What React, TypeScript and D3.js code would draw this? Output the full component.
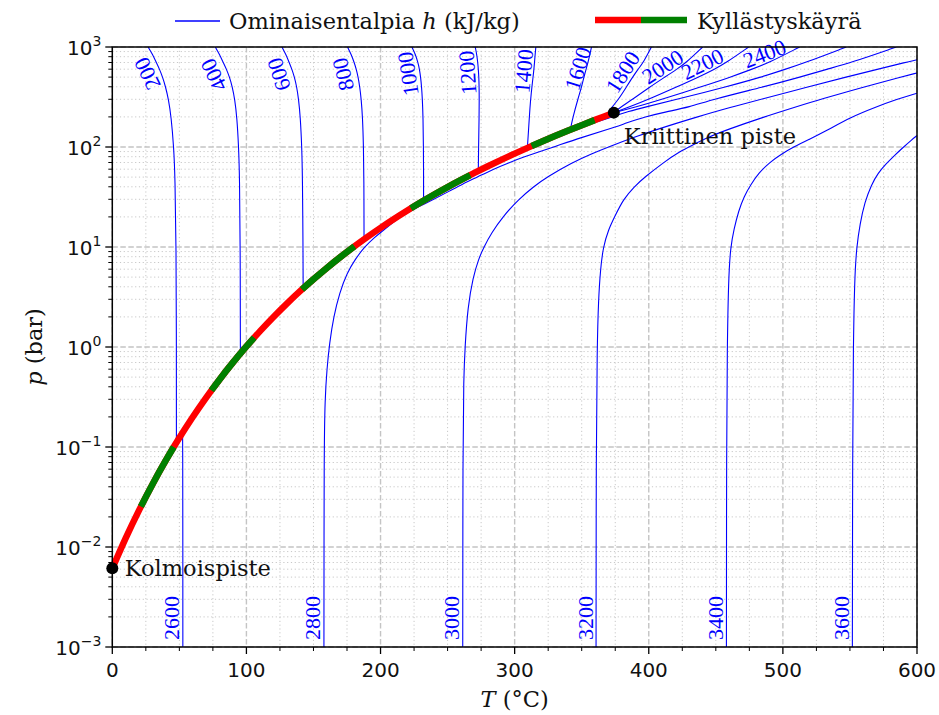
import React from 'react';
import * as d3 from 'd3';

type Pt = [number, number]; // [T (°C), p (bar)]

// Saturation curve (triple point -> critical point)
const SAT_T = [0.01, 10, 20, 30, 40, 50, 60, 70, 80, 90, 100, 110, 120, 130, 140, 150, 160, 170, 180, 190, 200, 210, 220, 230, 240, 250, 260, 270, 280, 290, 300, 310, 320, 330, 340, 350, 360, 370, 373.95];
const SAT_P = [0.006117, 0.012282, 0.023393, 0.04247, 0.073849, 0.12352, 0.19946, 0.31201, 0.47416, 0.70182, 1.0142, 1.4338, 1.9867, 2.7028, 3.6154, 4.7616, 6.1823, 7.9219, 10.028, 12.552, 15.549, 19.077, 23.196, 27.971, 33.469, 39.762, 46.923, 55.03, 64.166, 74.418, 85.879, 98.651, 112.84, 128.58, 146.01, 165.29, 186.66, 210.44, 220.64];

const TRIPLE: Pt = [0.01, 0.006117];
const CRITICAL: Pt = [373.95, 220.64];

// Isenthalps (kJ/kg) as [T, p]
const H200: Pt[] = [[47.8, 0.111], [47.8, 1], [47.6, 10], [46.8, 50], [45.8, 100], [43.9, 200], [41.9, 300], [39.7, 400], [37.5, 500], [35.2, 600], [32.8, 700], [29.9, 850], [26.7, 1000]];
const H400: Pt[] = [[95.5, 0.85], [95.4, 10], [94.9, 50], [94.2, 100], [92.9, 200], [91.3, 300], [89.5, 400], [87.4, 500], [85.1, 600], [82.7, 700], [79.8, 850], [76.8, 1000]];
const H600: Pt[] = [[142.3, 3.85], [142.2, 10], [141.8, 50], [141.3, 100], [140.2, 200], [138.9, 300], [137.5, 400], [135.8, 500], [133.9, 600], [131.9, 700], [129.3, 850], [126.5, 1000]];
const H800: Pt[] = [[187.7, 11.9], [187.6, 50], [187.3, 100], [186.6, 200], [185.6, 300], [184.5, 400], [183.3, 500], [181.9, 600], [180.4, 700], [178.0, 850], [175.4, 1000]];
const H1000: Pt[] = [[232.1, 28.8], [232.1, 50], [232.0, 100], [231.7, 200], [231.2, 300], [230.6, 400], [229.9, 500], [229.0, 600], [227.9, 700], [225.9, 850], [223.4, 1000]];
const H1200: Pt[] = [[272.9, 57.8], [273.1, 100], [273.5, 200], [273.6, 300], [273.5, 400], [273.3, 500], [272.9, 600], [272.5, 700], [271.7, 850], [270.6, 1000]];
const H1400: Pt[] = [[309.5, 98.6], [310.4, 150], [311.4, 250], [312.4, 350], [313.3, 450], [314.1, 550], [314.8, 700], [315.3, 850], [315.8, 1000]];
const H1600: Pt[] = [[341.5, 149.5], [343.5, 200], [347.3, 307], [350.0, 400], [352.3, 546], [354.8, 700], [357.3, 1000]];
const H1800: Pt[] = [[368.5, 209], [372.5, 250], [377.5, 300], [383.4, 400], [388, 500], [392, 600], [396, 700], [402, 1000]];
const H2000: Pt[] = [[373.95, 220.64], [379, 250], [388, 300], [401, 400], [412, 500], [421, 600], [428, 700], [440.2, 1000]];
const H2200: Pt[] = [[373.95, 220.64], [385, 250], [400, 300], [421, 400], [437, 500], [449, 600], [458, 700], [474.5, 1000]];
const H2400: Pt[] = [[373.95, 220.64], [390, 250], [410, 300], [439, 400], [461, 500], [477, 600], [490, 700], [512.5, 1000]];
const H2600_LOW: Pt[] = [[52.6, 0.001], [52.6, 0.01], [52.5, 0.1], [52.4, 0.137]];
const H2600_HIGH: Pt[] = [[343, 152], [356, 170], [368, 190], [377, 210], [384, 225], [397, 250], [421, 300], [458, 400], [484, 500], [502, 600], [517, 700], [547.3, 1000]];
const H2800: Pt[] = [[157.8, 0.001], [157.9, 0.1], [158.6, 0.3], [160, 0.6], [162, 1.1], [165, 2], [169.5, 3.5], [175, 5.5], [181, 7.5], [188, 10], [195.5, 12.5], [203, 15], [209.5, 17.7], [216, 20.5], [229, 25.5], [240.5, 30.5], [251, 36], [261, 42.5], [272, 50], [284, 60], [296, 70], [307.5, 80], [318.5, 90], [329, 100], [350, 125], [370, 150], [384, 175], [397, 200], [413, 225], [430, 250], [448, 300], [486, 400], [513, 500], [533, 600], [551, 700], [584.6, 1000]];
const H3000: Pt[] = [[261.3, 0.001], [261.4, 0.1], [262, 0.5], [263, 1], [265, 2.5], [269, 5], [273, 7.5], [277, 10], [283, 14], [291, 20], [303, 30], [314, 40], [324, 50], [343, 70], [357, 85], [370, 100], [389, 125], [406, 150], [436, 200], [461, 250], [484, 300], [519, 400], [547, 500], [571, 600], [591, 700], [600, 745]];
const H3200: Pt[] = [[360.7, 0.001], [360.8, 0.1], [361.5, 1], [362.5, 3], [364, 6], [366, 10], [370, 15], [374.5, 20], [381, 30], [389, 40], [397, 50], [411, 70], [423, 90], [433, 105], [444, 125], [459, 150], [486, 200], [509, 250], [528, 300], [561, 400], [588, 500], [600, 550]];
const H3400: Pt[] = [[457.9, 0.001], [458, 0.1], [458.5, 1], [459.5, 5], [461, 10], [463.5, 15], [467, 23], [471, 32], [476, 42], [482, 55], [490, 70], [499, 85], [508, 100], [520, 120], [531, 142], [551, 200], [569, 250], [585, 300], [600, 345]];
const H3600: Pt[] = [[551.8, 0.001], [552, 0.1], [552.5, 1], [553.5, 5], [555, 10], [557.5, 17], [561, 28], [566, 42], [571, 55], [577, 68], [583, 82], [590, 100], [596, 118], [600, 130]];

const TOP_LABELS = [200, 400, 600, 800, 1000, 1200, 1400, 1600, 1800, 2000, 2200, 2400];
const BOTTOM_LABELS = [2600, 2800, 3000, 3200, 3400, 3600];

const X_TICKS = [0, 100, 200, 300, 400, 500, 600];
const Y_EXPONENTS = [-3, -2, -1, 0, 1, 2, 3];

const LEGEND_H = 'Ominaisentalpia';
const LEGEND_SAT = 'Kyllästyskäyrä';
const TRIPLE_LABEL = 'Kolmoispiste';
const CRITICAL_LABEL = 'Kriittinen piste';

const SERIF = '"DejaVu Serif", serif';
const NUMSERIF = '"Liberation Serif", "Times New Roman", serif';
const SANS = '"DejaVu Sans", sans-serif';

export default function App() {
  const W = 939, H = 715;
  const x = d3.scaleLinear().domain([0, 600]).range([112.3, 917]);
  const y = d3.scaleLog().domain([1e-3, 1e3]).range([647, 47]);
  const [x0, x1] = x.range();
  const [yb, yt] = y.range();

  const lines: { h: number; pts: Pt[] }[] = [
    { h: 200, pts: H200 }, { h: 400, pts: H400 }, { h: 600, pts: H600 }, { h: 800, pts: H800 },
    { h: 1000, pts: H1000 }, { h: 1200, pts: H1200 }, { h: 1400, pts: H1400 }, { h: 1600, pts: H1600 },
    { h: 1800, pts: H1800 }, { h: 2000, pts: H2000 }, { h: 2200, pts: H2200 }, { h: 2400, pts: H2400 },
    { h: 2600, pts: H2600_LOW }, { h: 2600, pts: H2600_HIGH }, { h: 2800, pts: H2800 },
    { h: 3000, pts: H3000 }, { h: 3200, pts: H3200 }, { h: 3400, pts: H3400 }, { h: 3600, pts: H3600 },
  ];

  const lineGen = d3.line<Pt>().x(d => x(d[0])).y(d => y(d[1])).curve(d3.curveBasis);
  const satPts: Pt[] = SAT_T.map((t, i) => [t, SAT_P[i]]);
  const satGen = d3.line<Pt>().x(d => x(d[0])).y(d => y(d[1])).curve(d3.curveMonotoneX);
  const satPath = satGen(satPts) || '';

  // grid values
  const xMinor = d3.range(0, 601, 25).filter(v => v % 100 !== 0);
  const yMinor: number[] = [];
  for (let e = -3; e < 3; e++) for (let m = 2; m <= 9; m++) yMinor.push(m * Math.pow(10, e));

  // helper: point on polyline at screen y, with tangent angle
  function atY(pts: Pt[], yy: number) {
    const s = pts.map(p => [x(p[0]), y(p[1])]);
    for (let i = 0; i < s.length - 1; i++) {
      const a = s[i], b = s[i + 1];
      if ((a[1] - yy) * (b[1] - yy) <= 0 && a[1] !== b[1]) {
        const t = (yy - a[1]) / (b[1] - a[1]);
        const px = a[0] + t * (b[0] - a[0]);
        const top = a[1] < b[1] ? a : b, bot = a[1] < b[1] ? b : a;
        const ang = Math.atan2(top[1] - bot[1], top[0] - bot[0]);
        return { x: px, y: yy, ang };
      }
    }
    const l = s[s.length - 1];
    return { x: l[0], y: l[1], ang: -Math.PI / 2 };
  }

  const topLabelCfg: Record<number, [number, number]> = {
    200: [68, 13], 400: [69, 14], 600: [70, 14], 800: [71, 14], 1000: [72, 12], 1200: [72, 11], 1400: [72, 10],
    1600: [71, 8], 1800: [78, 11], 2000: [75, 10], 2200: [73, 10], 2400: [63, 10],
  };

  const lineFor = (h: number) => lines.filter(l => l.h === h);

  return (
    <svg width={W} height={H} style={{ position: 'absolute', left: 0, top: 0, background: '#fff' }}>
      <rect x={0} y={0} width={W} height={H} fill="#fff" />
      {/* minor grid */}
      <g stroke="#c8c8c8" strokeWidth={1} strokeDasharray="1.2,2.6" fill="none">
        {xMinor.map(v => <line key={'xm' + v} x1={x(v)} x2={x(v)} y1={yt} y2={yb} />)}
        {yMinor.map(v => <line key={'ym' + v} x1={x0} x2={x1} y1={y(v)} y2={y(v)} />)}
      </g>
      {/* major grid */}
      <g stroke="#c4c4c4" strokeWidth={1.4} strokeDasharray="5.5,2.5" fill="none">
        {X_TICKS.map(v => <line key={'xg' + v} x1={x(v)} x2={x(v)} y1={yt} y2={yb} />)}
        {Y_EXPONENTS.map(e => <line key={'yg' + e} x1={x0} x2={x1} y1={y(Math.pow(10, e))} y2={y(Math.pow(10, e))} />)}
      </g>

      <defs>
        <clipPath id="plotclip"><rect x={x0} y={yt} width={x1 - x0} height={yb - yt} /></clipPath>
      </defs>

      {/* isenthalps */}
      <g clipPath="url(#plotclip)" fill="none" stroke="#0000ff" strokeWidth={1.1}>
        {lines.map((l, i) => <path key={'h' + i} d={lineGen(l.pts) || ''} />)}
      </g>

      {/* saturation curve */}
      <path d={satPath} fill="none" stroke="#ff0000" strokeWidth={6.5} />
      <path d={satPath} fill="none" stroke="#008000" strokeWidth={6.5} strokeDasharray="68,68" strokeDashoffset={68} />

      {/* labels for isenthalps */}
      <g fill="#0000ff" fontFamily={NUMSERIF} fontSize={22}>
        {TOP_LABELS.map(h => {
          const ls = lineFor(h);
          const pts = ls[ls.length - 1].pts;
          const [ay, d] = topLabelCfg[h];
          const p = atY(pts, ay);
          const ux = Math.sin(p.ang), uy = -Math.cos(p.ang);
          const cx = p.x + d * ux, cy = p.y + d * uy;
          return (
            <text key={'tl' + h} x={0} y={0} textAnchor="middle" dominantBaseline="central"
              transform={`translate(${cx},${cy}) rotate(${(p.ang * 180) / Math.PI})`}>{h}</text>
          );
        })}
        {BOTTOM_LABELS.map(h => {
          const pts = lineFor(h)[0].pts;
          const bx = x(pts[0][0]) - 3.5;
          const by = yb - 7;
          return (
            <text key={'bl' + h} x={0} y={0} textAnchor="start"
              transform={`translate(${bx},${by}) rotate(-90)`}>{h}</text>
          );
        })}
      </g>

      {/* special points */}
      <circle cx={x(TRIPLE[0])} cy={y(TRIPLE[1])} r={6} fill="#000" />
      <circle cx={x(CRITICAL[0])} cy={y(CRITICAL[1])} r={6} fill="#000" />
      <text x={x(TRIPLE[0]) + 12.5} y={y(TRIPLE[1]) + 8} fontFamily={SERIF} fontSize={22.5} fill="#111">{TRIPLE_LABEL}</text>
      <text x={x(CRITICAL[0]) + 10} y={y(CRITICAL[1]) + 31.5} fontFamily={SERIF} fontSize={22.5} fill="#111">{CRITICAL_LABEL}</text>

      {/* frame */}
      <rect x={x0} y={yt} width={x1 - x0} height={yb - yt} fill="none" stroke="#000" strokeWidth={1.5} />

      {/* ticks */}
      <g stroke="#000">
        {X_TICKS.map(v => <line key={'xt' + v} x1={x(v)} x2={x(v)} y1={yb} y2={yb + 7} strokeWidth={1.3} />)}
        {xMinor.map(v => <line key={'xmt' + v} x1={x(v)} x2={x(v)} y1={yb} y2={yb + 4} strokeWidth={1} />)}
        {Y_EXPONENTS.map(e => <line key={'yt' + e} x1={x0 - 7} x2={x0} y1={y(Math.pow(10, e))} y2={y(Math.pow(10, e))} strokeWidth={1.3} />)}
        {yMinor.map(v => <line key={'ymt' + v} x1={x0 - 4} x2={x0} y1={y(v)} y2={y(v)} strokeWidth={1} />)}
      </g>
      <g fontFamily={SANS} fontSize={20} fill="#111">
        {X_TICKS.map(v => <text key={'xl' + v} x={x(v)} y={yb + 30} textAnchor="middle">{v}</text>)}
        {Y_EXPONENTS.map(e => (
          <text key={'yl' + e} x={x0 - 11} y={y(Math.pow(10, e)) + 8} textAnchor="end">
            10<tspan dy={-9} fontSize={14}>{e < 0 ? '\u2212' + Math.abs(e) : String(e)}</tspan>
          </text>
        ))}
      </g>

      {/* axis titles */}
      <text x={(x0 + x1) / 2} y={707} textAnchor="middle" fontFamily={SERIF} fontSize={22.5} fill="#111">
        <tspan fontStyle="italic">T</tspan> (°C)
      </text>
      <text transform={`translate(42,${(yt + yb) / 2}) rotate(-90)`} textAnchor="middle" fontFamily={SERIF} fontSize={22.5} fill="#111">
        <tspan fontStyle="italic">p</tspan> (bar)
      </text>

      {/* legend */}
      <line x1={175} x2={220} y1={21} y2={21} stroke="#0000ff" strokeWidth={1.3} />
      <text x={229} y={29} fontFamily={SERIF} fontSize={22.5} fill="#111">
        {LEGEND_H} <tspan fontStyle="italic">h</tspan> (kJ/kg)
      </text>
      <line x1={595} x2={641} y1={20} y2={20} stroke="#ff0000" strokeWidth={6.5} />
      <line x1={641} x2={687} y1={20} y2={20} stroke="#008000" strokeWidth={6.5} />
      <text x={697} y={29} fontFamily={SERIF} fontSize={22.5} fill="#111">{LEGEND_SAT}</text>
    </svg>
  );
}
